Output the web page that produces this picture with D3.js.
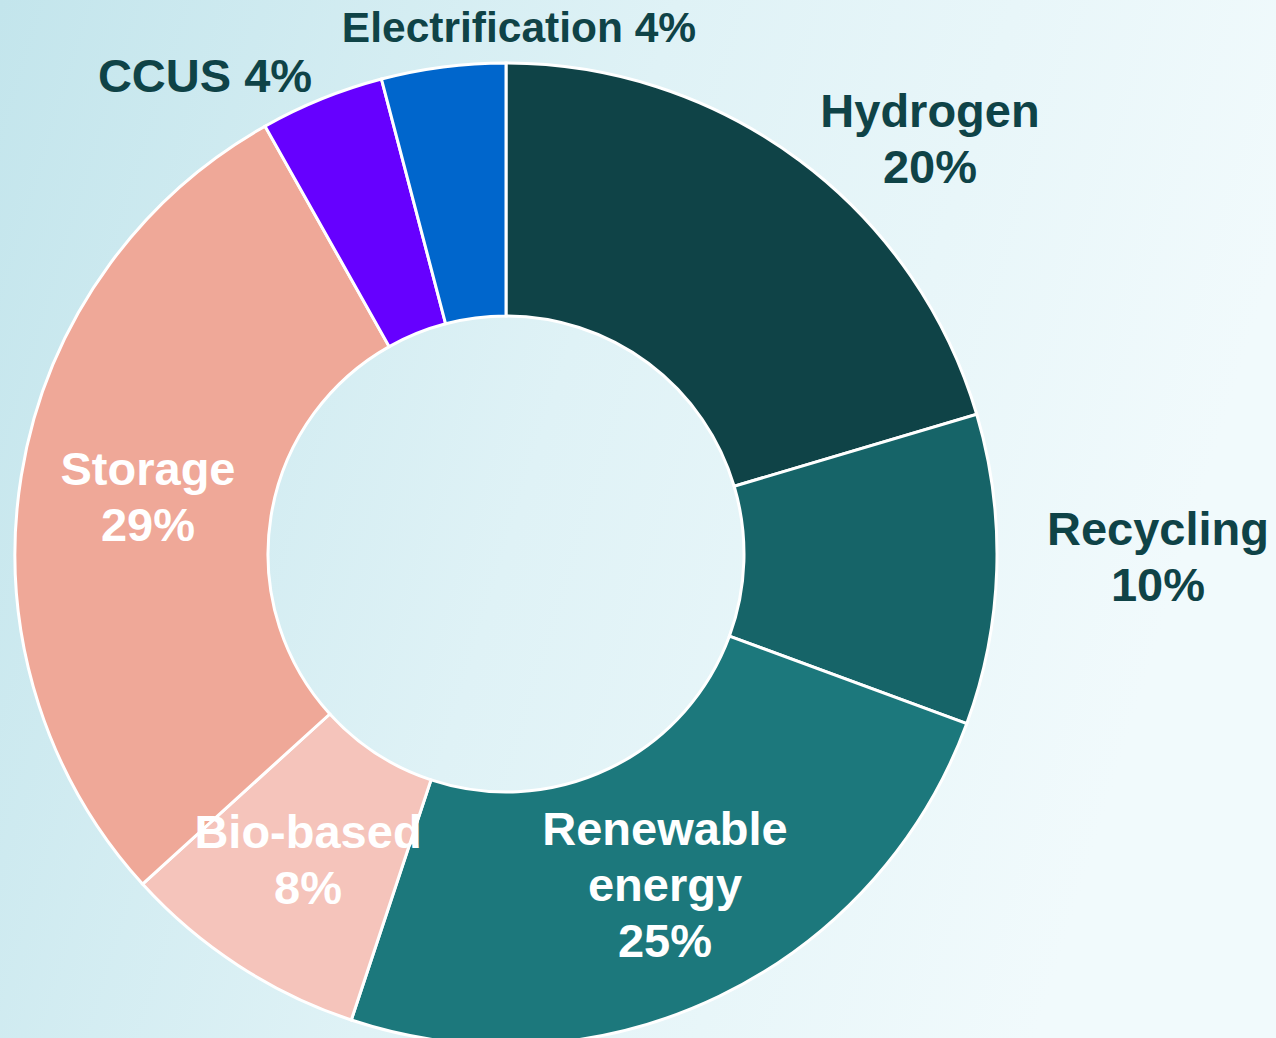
<!DOCTYPE html>
<html>
<head>
<meta charset="utf-8">
<script src="https://cdn.jsdelivr.net/npm/d3@7/dist/d3.min.js"></script>
<style>
html,body{margin:0;padding:0;}
body{width:1276px;height:1038px;overflow:hidden;}
svg{display:block;}
</style>
</head>
<body>
<svg id="chart" width="1276" height="1038"></svg>
<script>
const categories = ["Hydrogen", "Recycling", "Renewable energy", "Bio-based", "Storage", "CCUS", "Electrification"];
const values = [10, 5, 12, 4, 14, 2, 2];
const percentLabels = ["20%", "10%", "25%", "8%", "29%", "4%", "4%"];
const colors = ["#0f4347", "#166468", "#1c787c", "#f5c4bb", "#efa898", "#6600ff", "#0066cc"];
const labelLines = [["Hydrogen", "20%"], ["Recycling", "10%"], ["Renewable", "energy", "25%"], ["Bio-based", "8%"], ["Storage", "29%"], ["CCUS 4%"], ["Electrification 4%"]];
const labelColors = ["#0f4347", "#0f4347", "#ffffff", "#ffffff", "#ffffff", "#0f4347", "#0f4347"];
// label anchor (first baseline) as offset from chart centre
const labelOffsets = [[424, -427], [652, -9], [159, 291], [-198, 294], [-358, -69], [-301, -462], [13, -512]];

const W = 1276, H = 1038;
const cx = 506, cy = 554, rOuter = 491, rInner = 238;
const svg = d3.select("#chart");

const defs = svg.append("defs");
const grad = defs.append("linearGradient").attr("id", "bg").attr("x1", "0").attr("y1", "0").attr("x2", "1").attr("y2", "0.25");
grad.append("stop").attr("offset", "0").attr("stop-color", "#c3e5ec");
grad.append("stop").attr("offset", "0.5").attr("stop-color", "#dff2f6");
grad.append("stop").attr("offset", "1").attr("stop-color", "#f1fafc");
svg.append("rect").attr("width", W).attr("height", H).attr("fill", "url(#bg)");

const data = categories.map((c, i) => ({ name: c, value: values[i], pct: percentLabels[i], color: colors[i], lines: labelLines[i], lc: labelColors[i], off: labelOffsets[i] }));

const pie = d3.pie().value(d => d.value).sort(null);
const arc = d3.arc().innerRadius(rInner).outerRadius(rOuter);

const g = svg.append("g").attr("transform", `translate(${cx},${cy})`);
g.selectAll("path.slice").data(pie(data)).enter().append("path")
  .attr("class", "slice")
  .attr("d", arc)
  .attr("fill", d => d.data.color)
  .attr("stroke", "#ffffff")
  .attr("stroke-width", 3)
  .attr("stroke-linejoin", "miter");

const lineH = 56;
const labels = g.selectAll("text.lbl").data(data).enter().append("text")
  .attr("class", "lbl")
  .attr("text-anchor", "middle")
  .attr("font-family", "'Liberation Sans', Arial, sans-serif")
  .attr("font-weight", "bold")
  .attr("font-size", d => d.name === "Electrification" ? 42.5 : 47)
  .attr("fill", d => d.lc)
  .attr("x", d => d.off[0])
  .attr("y", d => d.off[1]);
labels.selectAll("tspan").data(d => d.lines.map((t, j) => ({ t, j, x: d.off[0] }))).enter().append("tspan")
  .attr("x", d => d.x)
  .attr("dy", d => d.j === 0 ? 0 : lineH)
  .text(d => d.t);
</script>
</body>
</html>
